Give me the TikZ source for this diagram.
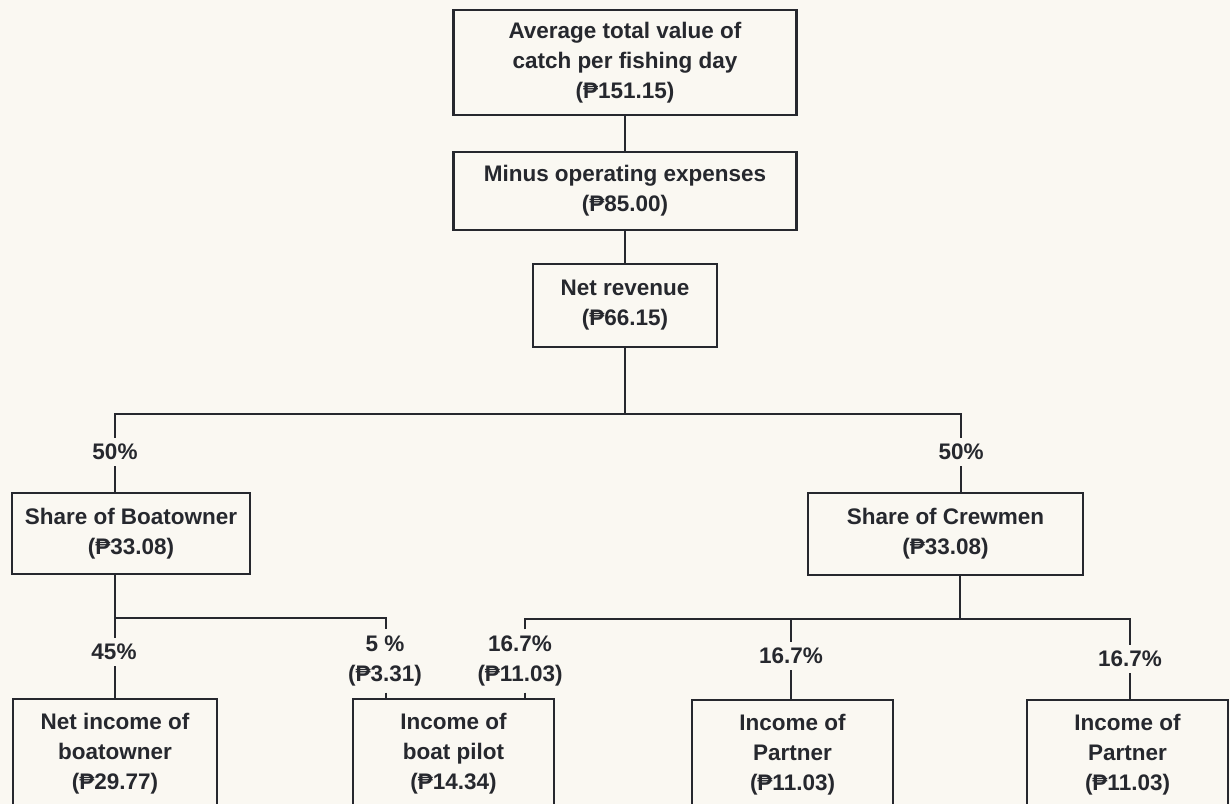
\documentclass[tikz,border=0pt]{standalone}
\usepackage{fontspec}
\setmainfont{Liberation Sans}
\definecolor{paper}{RGB}{250,248,242}
\definecolor{ink}{RGB}{38,40,46}
\newcommand\peso{₱}

\begin{document}
\begin{tikzpicture}
  [x=0.02cm,y=-0.02cm,line width=1.4pt,color=ink,
   font=\fontsize{12.8}{17}\selectfont\bfseries,
   box/.style={draw,align=center,inner sep=0pt},
   pct/.style={align=center,inner xsep=2pt,inner ysep=3pt}]
  \fill[paper] (0,0) rectangle (1230,804);
  \useasboundingbox (0,0) rectangle (1230,804);
  % upper chain
  \node[box,minimum width=6.86cm,minimum height=2.1cm] (avg) at (625,62.5)
    {Average total value of\\catch per fishing day\\(\peso151.15)};
  \node[box,minimum width=6.86cm,minimum height=1.56cm] (minus) at (625,191)
    {Minus operating expenses\\(\peso85.00)};
  \node[box,minimum width=3.68cm,minimum height=1.66cm] (net) at (625,305.5)
    {Net revenue\\(\peso66.15)};
  % shares
  \node[box,minimum width=4.76cm,minimum height=1.62cm] (boat) at (131,533.5)
    {Share of Boatowner\\(\peso33.08)};
  \node[box,minimum width=5.5cm,minimum height=1.64cm] (crew) at (945.5,534)
    {Share of Crewmen\\(\peso33.08)};
  % incomes
  \node[box,minimum width=4.08cm,minimum height=2.2cm] (inc) at (115,754)
    {Net income of\\boatowner\\(\peso29.77)};
  \node[box,minimum width=4.02cm,minimum height=2.2cm] (pilot) at (453.5,754)
    {Income of\\boat pilot\\(\peso14.34)};
  \node[box,minimum width=4.02cm,minimum height=2.2cm] (partA) at (792.5,755)
    {Income of\\Partner\\(\peso11.03)};
  \node[box,minimum width=4.02cm,minimum height=2.2cm] (partB) at (1127.5,755)
    {Income of\\Partner\\(\peso11.03)};
  % junctions
  \coordinate (jTop) at (625,414);
  \coordinate (jL) at (115,414);
  \coordinate (jR) at (961,414);
  \coordinate (jB) at (115,618);
  \coordinate (jP) at (386,618);
  \coordinate (jC) at (960,619);
  \coordinate (jA) at (525,619);
  \coordinate (jD) at (791,619);
  \coordinate (jE) at (1130,619);
  % percentages
  \node[pct] (pL) at (115,452) {50\%};
  \node[pct] (pR) at (961,452) {50\%};
  \node[pct] (p45) at (114,652) {45\%};
  \node[pct] (p5) at (385,661) {5 \%\\(\peso3.31)};
  \node[pct] (pA) at (520,661) {16.7\%\\(\peso11.03)};
  \node[pct] (pD) at (791,656) {16.7\%};
  \node[pct] (pE) at (1130,659) {16.7\%};
  % connectors
  \draw (avg) -- (minus);
  \draw (minus) -- (net);
  \draw (net) -- (jTop);
  \draw (pL.north -| jL) -- (jL) -- (jR) -- (pR.north -| jR);
  \draw (boat.south -| jB) -- (p45.north -| jB);
  \draw (jB) -- (jP) -- (p5.north -| jP);
  \draw (crew.south -| jC) -- (jC);
  \draw (pA.north -| jA) -- (jA) -- (jE) -- (pE.north -| jE);
  \draw (jD) -- (pD.north -| jD);
  \foreach \j/\p/\b in {jL/pL/boat,jR/pR/crew,jB/p45/inc,jP/p5/pilot,
                        jA/pA/pilot,jD/pD/partA,jE/pE/partB}
  \draw (\p.south -| \j) -- (\b.north -| \j);
\end{tikzpicture}
\end{document}
